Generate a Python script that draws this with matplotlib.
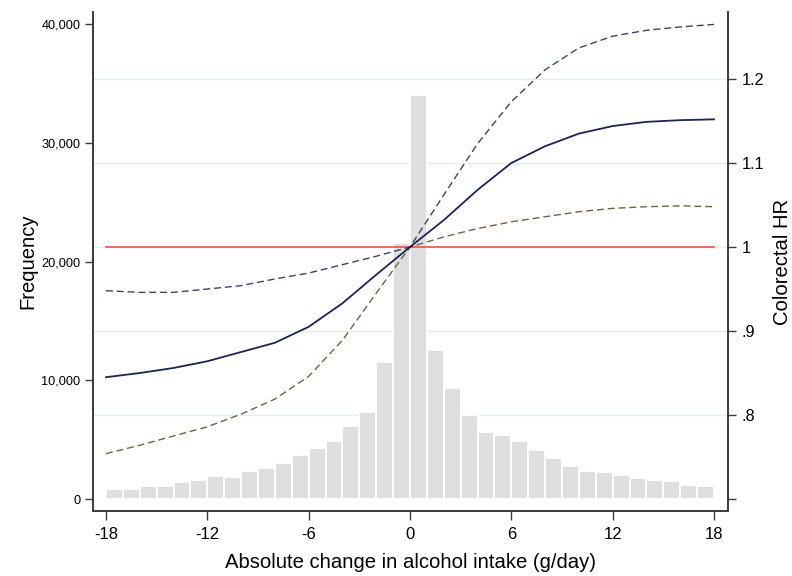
import matplotlib
matplotlib.use("Agg")
import matplotlib.pyplot as plt
import numpy as np

plt.rcParams['font.family'] = ['Liberation Sans', 'DejaVu Sans']

# histogram of absolute change (1 g/day bins, left edges)
bin_left = list(range(-18, 18))
freq = [830, 860, 1110, 1120, 1430, 1600, 1960, 1850, 2330, 2610,
        3060, 3680, 4320, 4860, 6150, 7330, 11560, 21600, 34000, 12550,
        9320, 7070, 5640, 5390, 4860, 4150, 3450, 2750, 2390, 2270,
        2020, 1800, 1600, 1520, 1150, 1120]

# hazard ratio curve and confidence band
hr_x = [-18, -16, -14, -12, -10, -8, -6, -4, -2, 0,
        2, 4, 6, 8, 10, 12, 14, 16, 18]
hr = [0.845, 0.850, 0.856, 0.864, 0.875, 0.886, 0.905, 0.933, 0.967, 1.0,
      1.032, 1.068, 1.100, 1.120, 1.135, 1.144, 1.149, 1.151, 1.152]
hr_hi = [0.948, 0.946, 0.946, 0.950, 0.954, 0.962, 0.969, 0.979, 0.989, 1.0,
         1.062, 1.123, 1.173, 1.211, 1.237, 1.251, 1.258, 1.262, 1.265]
hr_lo = [0.754, 0.764, 0.775, 0.786, 0.801, 0.819, 0.846, 0.889, 0.945, 1.0,
         1.012, 1.022, 1.030, 1.036, 1.042, 1.046, 1.048, 1.049, 1.048]

fig = plt.figure(figsize=(7.92, 5.76), dpi=100)
ax = fig.add_axes([0.1174, 0.1128, 0.8018, 0.8664])
ax2 = ax.twinx()
# put the histogram axis below the HR axis
ax.set_zorder(1)
ax2.set_zorder(2)
ax.patch.set_visible(True)
ax2.patch.set_visible(False)

spine_col = '#3a3a3a'

# bars
ax.bar(bin_left, freq, width=1, align='edge', color='#dfdfdf',
       edgecolor='white', linewidth=1.3, zorder=2)
ax.set_xlim(-18.77, 18.83)
ax.set_ylim(-1010, 41010)
ax.set_yticks([0, 10000, 20000, 30000, 40000])
ax.set_yticklabels(['0', '10,000', '20,000', '30,000', '40,000'], fontsize=9.2)
ax.set_xticks([-18, -12, -6, 0, 6, 12, 18])
ax.set_xticklabels(['-18', '-12', '-6', '0', '6', '12', '18'], fontsize=12)
ax.tick_params(axis='y', length=6, width=1, pad=3, color=spine_col)
ax.tick_params(axis='x', length=6.5, width=1, pad=5, color=spine_col)
ax.set_ylabel('Frequency', fontsize=14.6)
ax.yaxis.set_label_coords(-0.087, 0.5)
ax.set_xlabel('Absolute change in alcohol intake (g/day)', fontsize=14.6, labelpad=8)

# HR axis
ax2.set_ylim(0.6857, 1.2798)
ax2.set_yticks([0.7, 0.8, 0.9, 1.0, 1.1, 1.2])
ax2.set_yticklabels(['', '.8', '.9', '1', '1.1', '1.2'], fontsize=11.7)
ax2.tick_params(axis='y', length=6, width=1, pad=4, color=spine_col)
for g in [0.8, 0.9, 1.0, 1.1, 1.2]:
    ax.axhline((g - 0.6857) / (1.2798 - 0.6857) * 42020 - 1010,
               color='#e4eced', lw=1, zorder=1)

ax2.plot([-18, 18], [1, 1], color='#e8463e', lw=1.1, zorder=3)
ax2.plot(hr_x, hr_hi, color='#3b4463', lw=1.0, dashes=(5, 2.8), zorder=4)
ax2.plot(hr_x, hr_lo, color='#6e6444', lw=1.0, dashes=(5, 2.8), zorder=4)
ax2.plot(hr_x, hr, color='#1c2452', lw=1.3, zorder=5)
ax2.set_ylabel('Colorectal HR', fontsize=14.6)
ax2.yaxis.set_label_coords(1.071, 0.5)

for a in (ax, ax2):
    a.spines['top'].set_visible(False)
    for s in ('left', 'right', 'bottom'):
        a.spines[s].set_color(spine_col)
        a.spines[s].set_linewidth(1.2)

fig.savefig('out.png', dpi=100)
